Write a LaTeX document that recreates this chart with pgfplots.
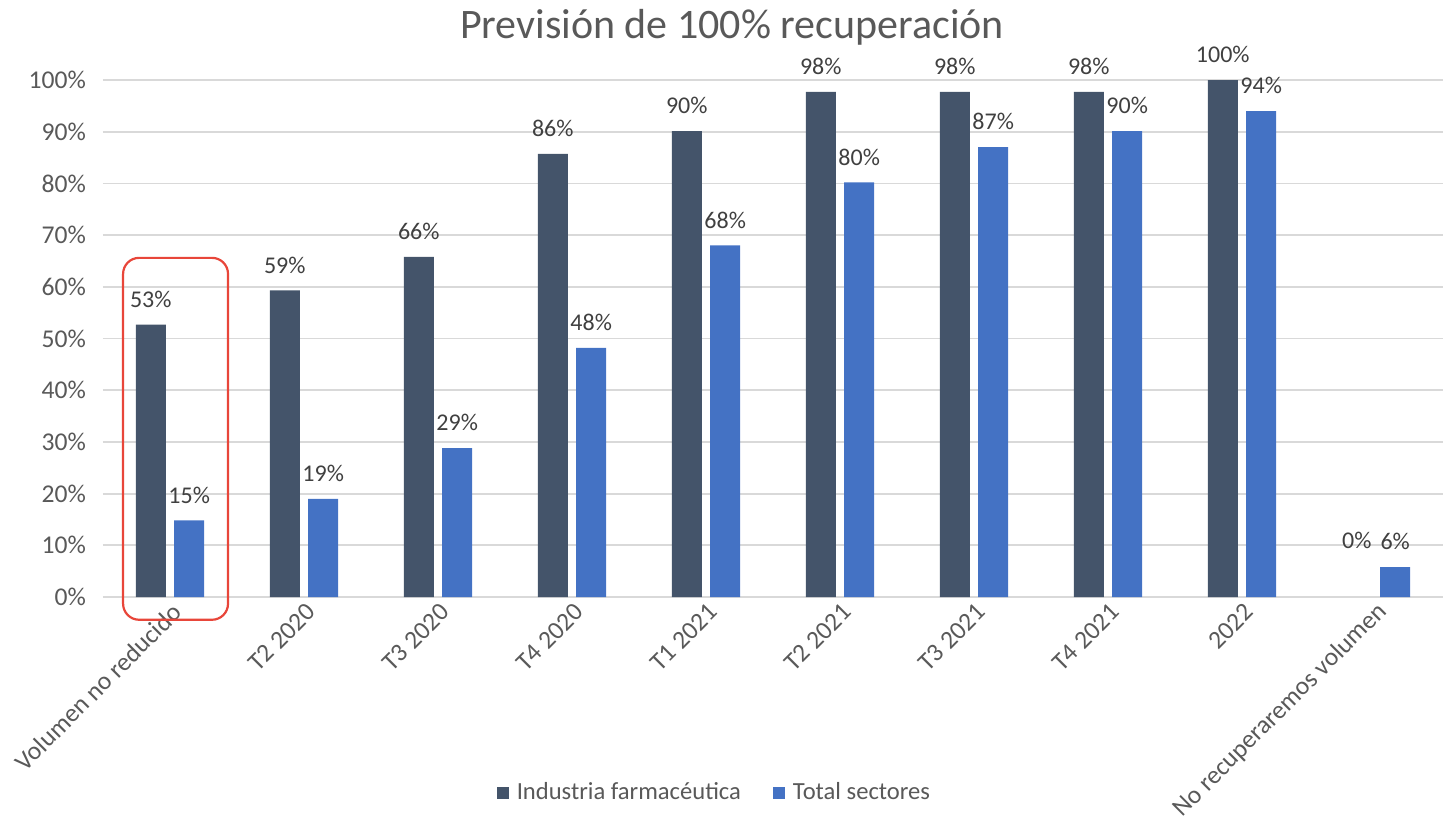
\documentclass[border=0pt]{standalone}
\usepackage{fontspec}
\setmainfont{Carlito}
\usepackage{pgfplots}
\pgfplotsset{compat=1.18}
\definecolor{farma}{HTML}{44546A}
\definecolor{total}{HTML}{4472C4}
\definecolor{txt}{HTML}{595959}
\definecolor{lbl}{HTML}{404040}
\definecolor{gridc}{HTML}{D9D9D9}
\definecolor{marco}{HTML}{E8463A}

\begin{document}
\begin{tikzpicture}
\path[use as bounding box] (-51.5pt,-111.5pt) rectangle (673.5pt,298.5pt);
\begin{axis}[
    scale only axis,
    width=670pt, height=258.5pt,
    ybar, bar width=15pt,
    /pgf/number format/assume math mode=true,
    xmin=-0.5, xmax=9.5,
    ymin=0, ymax=100,
    ytick={0,10,...,100},
    yticklabel={\pgfmathprintnumber{\tick}\%},
    xtick={0,...,9},
    xticklabels={Volumen no reducido, T2 2020, T3 2020, T4 2020, T1 2021, T2 2021, T3 2021, T4 2021, 2022, No recuperaremos volumen},
    major tick length=0pt,
    axis line style={draw=none},
    ymajorgrids, grid style={gridc, line width=0.9pt},
    tick label style={font=\fontsize{12.8}{14}\selectfont, text=txt},
    yticklabel style={xshift=-5pt},
    xticklabel style={xshift=6pt, yshift=-3pt, rotate=45, anchor=east},
    title={Previsión de 100\% recuperación},
    title style={at={(rel axis cs:0.4694,1.078)}, anchor=center, font=\fontsize{21}{24}\selectfont, text=txt},
    nodes near coords={\pgfmathprintnumber[fixed,precision=0]{\pgfplotspointmeta}\%},
    every node near coord/.append style={font=\fontsize{12}{14}\selectfont, text=lbl, yshift=5pt},
    legend columns=2,
    legend style={at={(rel axis cs:0.457,-0.379)}, anchor=center, draw=none,
        font=\fontsize{12.3}{14}\selectfont, text=txt,
        /tikz/every even column/.append style={column sep=14pt}},
    legend image code/.code={\fill[#1] (0pt,-3pt) rectangle (6pt,3pt); \path (8pt,0pt);},
    clip=false,
]
\addplot[fill=farma, draw=none, bar shift=-9.6pt] coordinates {
    (0,52.7) (1,59.3) (2,65.8) (3,85.7) (4,90.1) (5,97.7) (6,97.7) (7,97.7) (8,100.0)
};
\addplot[fill=total, draw=none, bar shift=9.6pt] coordinates {
    (0,14.8) (1,19.0) (2,28.8) (3,48.2) (4,68.0) (5,80.2) (6,87.0) (7,90.1) (8,94.0) (9,5.8)
};
\legend{Industria farmacéutica, Total sectores}
\node[font=\fontsize{12}{14}\selectfont, text=lbl, xshift=-9.6pt, yshift=28.5pt] at (axis cs:9,0) {0\%};
\draw[marco, line width=1.1pt, rounded corners=8pt] (axis cs:-0.35,65.6) rectangle (axis cs:0.433,-4.4);
\end{axis}
\end{tikzpicture}
\end{document}
